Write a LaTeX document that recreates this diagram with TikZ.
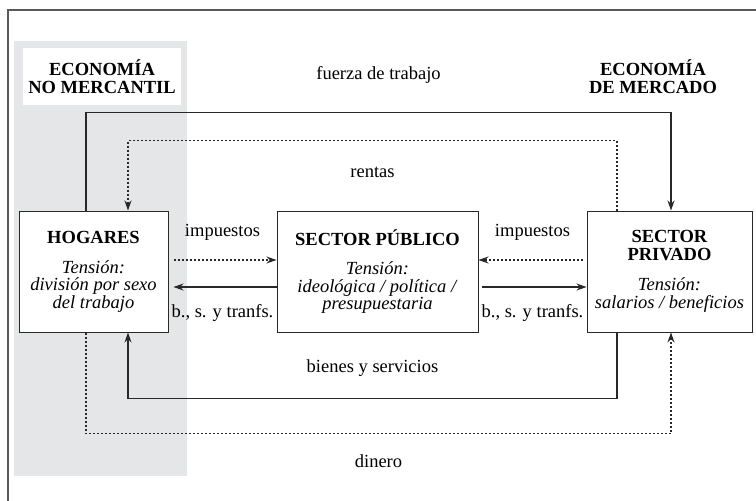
\documentclass[tikz,border=0pt]{standalone}
\usepackage{fontspec}
\setmainfont{Liberation Serif}
\usepackage{xcolor}
\usetikzlibrary{arrows.meta,positioning}
\definecolor{bandgray}{RGB}{229,230,232}
\definecolor{inkgray}{RGB}{40,40,40}

\begin{document}
\begin{tikzpicture}
    [x=1pt,y=-1pt,inner sep=0pt,
     font=\fontsize{18.5}{17.5}\selectfont,
     sector/.style={rectangle,draw=inkgray,line width=1pt,fill=white,align=center,minimum height=121pt},
     zona/.style={align=center,font=\fontsize{18.5}{18}\selectfont\bfseries},
     flow/.style={draw=inkgray,line width=1.1pt,-{Stealth[length=10pt,width=7pt]}},
     money/.style={flow,dash pattern=on 2pt off 2pt},
     lbl/.style={inner sep=0pt}]
    \useasboundingbox (0,0) rectangle (756,501);
    \fill[bandgray] (14,41) rectangle (187,476);
    \draw[black!65,line width=1.5pt] (8,501) |- (756,10);
    \node (NM) at (102,76.5) [zona,fill=white,minimum width=158pt,minimum height=57pt] {ECONOMÍA\\NO MERCANTIL};
    \node (M) at (653,76.5) [zona] {ECONOMÍA\\DE MERCADO};
    \node (H) at (93.5,271.5) [sector,minimum width=149pt]
      {\textbf{HOGARES}\\[12.5pt] \textit{Tensión:}\\ \textit{división por sexo}\\ \textit{del trabajo}};
    \node (P) at (377.5,271.5) [sector,minimum width=201pt]
      {\textbf{SECTOR PÚBLICO}\\[12pt] \textit{Tensión:}\\ \textit{ideológica / política /}\\ \textit{presupuestaria}};
    \node (S) at (669.5,271.5) [sector,minimum width=165pt]
      {\textbf{SECTOR}\\[0.5pt] \textbf{PRIVADO}\\[12.5pt] \textit{Tensión:}\\ \textit{salarios / beneficios}};
    % flujos de arriba
    \draw[flow] ([xshift=-7.5pt]H.north) |- ([xshift=1.5pt,yshift=98pt]S.north)
      node[lbl,pos=0.75,above=29pt] {fuerza de trabajo} -- ([xshift=1.5pt]S.north);
    \draw[money] ([xshift=-52.5pt]S.north) |- ([xshift=34.5pt,yshift=70pt]H.north)
      node[lbl,pos=0.75,below=26pt] {rentas} -- ([xshift=34.5pt]H.north);
    % flujos con el sector publico
    \draw[money,shorten <=5pt] ([yshift=11.5pt]H.east) -- ([yshift=11.5pt]P.west)
      node[lbl,midway,above=19pt] {impuestos};
    \draw[flow,shorten >=5pt] ([yshift=-15.5pt]P.west) -- ([yshift=-15.5pt]H.east)
      node[lbl,midway,below=17pt] {b., s. y tranfs.};
    \draw[money,shorten <=4pt] ([yshift=11.5pt]S.west) -- ([yshift=11.5pt]P.east)
      node[lbl,midway,above=19pt] {impuestos};
    \draw[flow,shorten <=3pt] ([yshift=-15.5pt]P.east) -- ([yshift=-15.5pt]S.west)
      node[lbl,midway,below=17pt] {b., s. y tranfs.};
    % flujos de abajo
    \draw[flow] ([xshift=-52.5pt]S.south) |- ([xshift=34.5pt,yshift=-66pt]H.south)
      node[lbl,pos=0.75,above=21.5pt] {bienes y servicios} -- ([xshift=34.5pt]H.south);
    \draw[money] ([xshift=-7.5pt]H.south) |- ([xshift=1.5pt,yshift=-101pt]S.south)
      node[lbl,pos=0.75,below=20.5pt] {dinero} -- ([xshift=1.5pt]S.south);
\end{tikzpicture}
\end{document}
